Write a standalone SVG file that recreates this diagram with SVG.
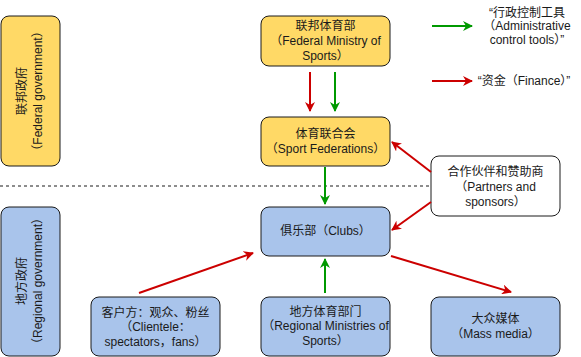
<svg xmlns="http://www.w3.org/2000/svg" width="581" height="357" viewBox="0 0 581 357">
<style>
.y{fill:#FFD966;stroke:#1a1a1a;stroke-width:1}
.b{fill:#A9C4EB;stroke:#1a1a1a;stroke-width:1}
.w{fill:#FFFFFF;stroke:#1a1a1a;stroke-width:1}
text{font-family:"Liberation Sans","Noto Sans CJK SC",sans-serif;font-size:12px;fill:#1a1a1a;text-anchor:middle;dominant-baseline:central}
.r{stroke:#CC0000;stroke-width:2;fill:none;marker-end:url(#ar)}
.g{stroke:#009900;stroke-width:2;fill:none;marker-end:url(#ag)}
</style>
<defs>
<marker id="ar" viewBox="0 0 10 10" refX="9" refY="5" markerWidth="5" markerHeight="5" orient="auto" markerUnits="strokeWidth">
<path d="M0,0 L10,5 L0,10 L3,5 Z" fill="#CC0000"/>
</marker>
<marker id="ag" viewBox="0 0 10 10" refX="9" refY="5" markerWidth="5" markerHeight="5" orient="auto" markerUnits="strokeWidth">
<path d="M0,0 L10,5 L0,10 L3,5 Z" fill="#009900"/>
</marker>
</defs>
<rect width="581" height="357" fill="#FFFFFF"/>
<line x1="0" y1="186" x2="431" y2="186" stroke="#1a1a1a" stroke-width="1" stroke-dasharray="3,3"/>
<g id="federal-gov">
<rect class="y" x="1" y="16" width="59" height="150" rx="8"/>
<text transform="translate(22,91) rotate(-90)">联邦政府</text>
<text transform="translate(38,91) rotate(-90)">（Federal government）</text>
</g>
<g id="regional-gov">
<rect class="b" x="1" y="207" width="59" height="149" rx="8"/>
<text transform="translate(22,281) rotate(-90)">地方政府</text>
<text transform="translate(38,281) rotate(-90)">（Regional government）</text>
</g>
<g id="federal-ministry">
<rect class="y" x="261" y="16" width="129" height="50" rx="8"/>
<text x="325.5" y="26">联邦体育部</text>
<text x="325.5" y="41">（Federal Ministry of</text>
<text x="325.5" y="56">Sports）</text>
</g>
<g id="sport-federations">
<rect class="y" x="261" y="117" width="129" height="49" rx="8"/>
<text x="325.5" y="134">体育联合会</text>
<text x="325.5" y="149">（Sport Federations）</text>
</g>
<g id="clubs">
<rect class="b" x="261" y="207" width="129" height="49" rx="8"/>
<text x="325.5" y="231">俱乐部（Clubs）</text>
</g>
<g id="regional-ministries">
<rect class="b" x="261" y="297" width="129" height="59" rx="8"/>
<text x="325.5" y="312">地方体育部门</text>
<text x="325.5" y="326">（Regional Ministries of</text>
<text x="325.5" y="341">Sports）</text>
</g>
<g id="clientele">
<rect class="b" x="91" y="297" width="129" height="59" rx="8"/>
<text x="155.5" y="313">客户方：观众、粉丝</text>
<text x="155.5" y="327">（Clientele：</text>
<text x="155.5" y="342">spectators，fans）</text>
</g>
<g id="mass-media">
<rect class="b" x="431" y="297" width="129" height="59" rx="8"/>
<text x="495.5" y="319">大众媒体</text>
<text x="495.5" y="334">（Mass media）</text>
</g>
<g id="partners">
<rect class="w" x="431" y="156" width="129" height="60" rx="8"/>
<text x="495.5" y="172">合作伙伴和赞助商</text>
<text x="495.5" y="187">（Partners and</text>
<text x="495.5" y="202">sponsors）</text>
</g>
<g id="legend">
<line class="g" x1="432" y1="26" x2="472" y2="26"/>
<text x="527" y="13">“行政控制工具</text>
<text x="527" y="26">（Administrative</text>
<text x="527" y="40">control tools）”</text>
<line class="r" x1="432" y1="81" x2="472" y2="81"/>
<text x="524" y="81">“资金（Finance）”</text>
</g>
<g id="connectors">
<line class="r" x1="310" y1="72" x2="310" y2="111"/>
<line class="g" x1="335" y1="72" x2="335" y2="111"/>
<line class="g" x1="325" y1="167" x2="325" y2="204"/>
<line class="g" x1="325" y1="293" x2="325" y2="259"/>
<line class="r" x1="431" y1="172" x2="392" y2="142"/>
<line class="r" x1="431" y1="202" x2="392" y2="230"/>
<line class="r" x1="391" y1="256" x2="511" y2="292"/>
<line class="r" x1="139" y1="293" x2="253" y2="253"/>
</g>
</svg>
